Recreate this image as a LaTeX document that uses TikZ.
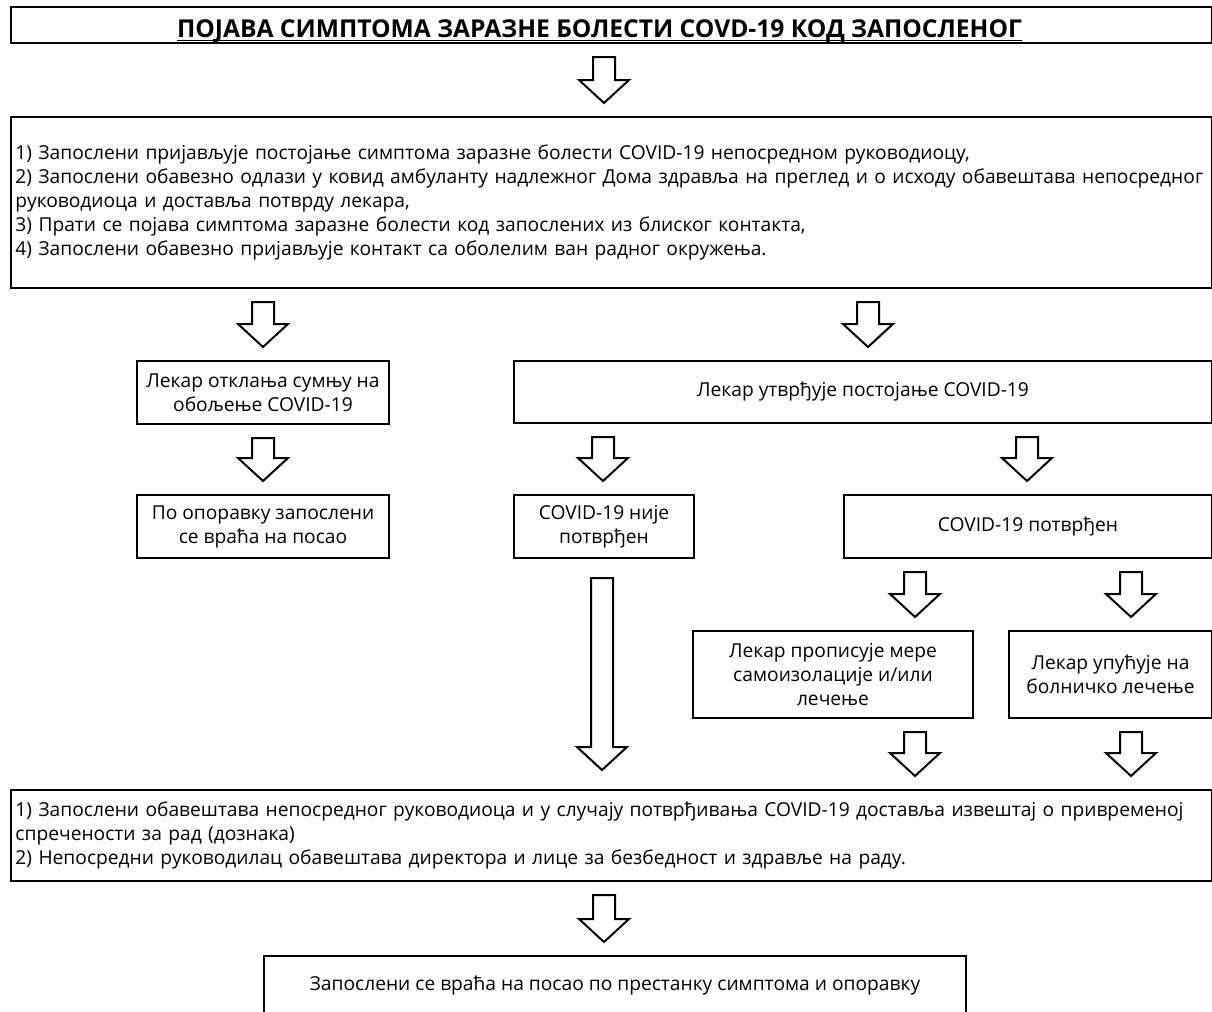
\documentclass[tikz,border=0pt]{standalone}
\usepackage{fontspec}
\setmainfont{Open Sans}
\usetikzlibrary{calc}
\tikzset{
  box/.style={draw, line width=1pt, anchor=north west, inner xsep=2pt, inner ysep=1pt,
    font=\fontsize{9.6}{12}\selectfont, align=center},
  blockarrow/.style={draw, line width=1pt, fill=white, line join=miter},
}
% block arrow from one box down to the next, at column x (px)
\newcommand\flowarrow[4][6.5pt]{%
  \draw[blockarrow] let \p1=(#2.south), \p2=(#3.north), \p3=(#4,0) in
    (\x3-5.5pt,\y1-#1) -- (\x3+5.5pt,\y1-#1) -- (\x3+5.5pt,\y2+#1+11.5pt)
    -- (\x3+12.5pt,\y2+#1+11.5pt) -- (\x3,\y2+#1) -- (\x3-12.5pt,\y2+#1+11.5pt)
    -- (\x3-5.5pt,\y2+#1+11.5pt) -- cycle;}

\begin{document}
\begin{tikzpicture}[x=0.5pt, y=-0.5pt]
  \clip (0,0) rectangle (1212,1012);

  %%%%% BOXES %%%%%
  \node[box, minimum width=600.5pt, text height=15pt, text depth=2pt, inner ysep=0.5pt,
    font=\fontsize{12.3}{14}\selectfont\bfseries]
    (onset) at (10,6) {\underline{\smash{ПОЈАВА СИМПТОМА ЗАРАЗНЕ БОЛЕСТИ COVD-19 КОД ЗАПОСЛЕНОГ}}\hspace*{12pt}};

  \node[box, minimum width=600.5pt, minimum height=85.5pt, text width=596pt, align=left]
    (steps) at (10,116) {1) Запослени пријављује постојање симптома заразне болести COVID-19 непосредном руководиоцу,\\
    2) Запослени обавезно одлази у ковид амбуланту надлежног Дома здравља на преглед и о исходу обавештава непосредног\\
    руководиоца и доставља потврду лекара,\\
    3) Прати се појава симптома заразне болести код запослених из блиског контакта,\\
    4) Запослени обавезно пријављује контакт са оболелим ван радног окружења.};

  \node[box, minimum width=126pt, minimum height=31.5pt] (ruledout) at (136,360)
    {Лекар отклања сумњу на\\обољење COVID-19};
  \node[box, minimum width=349pt, minimum height=31pt] (diagnosis) at (513,360)
    {Лекар утврђује постојање COVID-19};

  \node[box, minimum width=126pt, minimum height=31.5pt] (recovery) at (136,494)
    {По опоравку запослени\\се враћа на посао};
  \node[box, minimum width=90pt, minimum height=31.5pt] (negative) at (513,494)
    {COVID-19 није\\потврђен};
  \node[box, minimum width=184pt, minimum height=31.5pt] (positive) at (843,494)
    {COVID-19 потврђен};

  \node[box, minimum width=140pt, minimum height=43.5pt] (isolation) at (692,630)
    {Лекар прописује мере\\самоизолације и/или\\лечење};
  \node[box, minimum width=101.5pt, minimum height=43.5pt] (hospital) at (1008,630)
    {Лекар упућује на\\болничко лечење};

  \node[box, minimum width=600.5pt, minimum height=45.5pt, text width=596pt, align=left]
    (report) at (10,789) {1) Запослени обавештава непосредног руководиоца и у случају потврђивања COVID-19 доставља извештај о привременој\\
    спречености за рад (дознака)\\
    2) Непосредни руководилац обавештава директора и лице за безбедност и здравље на раду.};

  \node[box, minimum width=351pt, minimum height=30pt] (return) at (263,955)
    {Запослени се враћа на посао по престанку симптома и опоравку};

  %%%%% ARROWS %%%%%
  \flowarrow{onset}{steps}{604}
  \flowarrow{steps}{ruledout}{263}
  \flowarrow{steps}{diagnosis}{868}
  \flowarrow{ruledout}{recovery}{263}
  \flowarrow{diagnosis}{negative}{603}
  \flowarrow{diagnosis}{positive}{1027}
  \flowarrow[9.5pt]{negative}{report}{602}
  \flowarrow{positive}{isolation}{915}
  \flowarrow{positive}{hospital}{1131}
  \flowarrow{isolation}{report}{915}
  \flowarrow{hospital}{report}{1131}
  \flowarrow{report}{return}{604}
\end{tikzpicture}
\end{document}
